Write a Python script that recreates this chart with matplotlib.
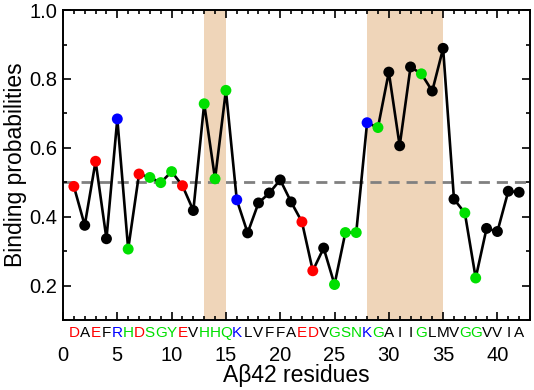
import matplotlib
matplotlib.use("Agg")
import matplotlib.pyplot as plt
from matplotlib.ticker import MultipleLocator

plt.rcParams['font.family'] = ['Liberation Sans', 'DejaVu Sans']

residues = list("DAEFRHDSGYEVHHQKLVFFAEDVGSNKGAIIGLMVGGVVIA")
positions = list(range(1, 43))
prob = [0.488, 0.375, 0.561, 0.336, 0.684, 0.306, 0.524, 0.514, 0.499, 0.531,
        0.490, 0.418, 0.728, 0.510, 0.767, 0.449, 0.353, 0.440, 0.469, 0.507,
        0.443, 0.385, 0.243, 0.309, 0.203, 0.354, 0.354, 0.673, 0.659, 0.820,
        0.606, 0.835, 0.815, 0.765, 0.889, 0.451, 0.411, 0.222, 0.366, 0.357,
        0.474, 0.471]
shaded = [(13, 15), (28, 35)]
threshold = 0.5

col_map = {}
for r in "DE":
    col_map[r] = '#FF0000'
for r in "RK":
    col_map[r] = '#0000FF'
for r in "HSGYQN":
    col_map[r] = '#00E000'
def color_of(r):
    return col_map.get(r, '#000000')

fig = plt.figure(figsize=(5.34, 3.90), dpi=100)
ax = fig.add_axes([0.118, 0.1795, 0.8745, 0.7945])

for a, b in shaded:
    ax.axvspan(a, b, color='#EFD5B9', lw=0, zorder=0)

ax.axhline(threshold, color='#808080', ls=(0, (4, 2.5)), lw=2.0, zorder=1)
ax.plot(positions, prob, color='black', lw=1.9, zorder=2)
ax.scatter(positions, prob, s=62, c=[color_of(r) for r in residues],
           zorder=3, linewidths=0)

ax.set_xlim(0, 43)
ax.set_ylim(0.1, 1.0)
ax.xaxis.set_major_locator(MultipleLocator(5))
ax.xaxis.set_minor_locator(MultipleLocator(1))
ax.yaxis.set_major_locator(MultipleLocator(0.2))
ax.yaxis.set_minor_locator(MultipleLocator(0.1))
ax.set_yticks([0.2, 0.4, 0.6, 0.8, 1.0])
ax.set_yticklabels(['0.2', '0.4', '0.6', '0.8', '1.0'])
ax.tick_params(which='both', direction='in', top=True, right=True, width=1.2)
ax.tick_params(which='major', length=6, labelsize=14.5)
ax.tick_params(which='minor', length=3)
ax.tick_params(axis='x', which='major', pad=19)
ax.tick_params(axis='y', which='major', pad=4)
for s in ax.spines.values():
    s.set_linewidth(1.4)

for x, r in zip(positions, residues):
    ax.annotate(r, xy=(x, 0), xycoords=('data', 'axes fraction'),
                xytext=(0, -4), textcoords='offset points',
                ha='center', va='top', fontsize=11, color=color_of(r))

ax.set_ylabel('Binding probabilities', fontsize=16.5, labelpad=2)
ax.set_xlabel('A\u03b242 residues', fontsize=16.5, labelpad=-1)

fig.savefig('out.png', dpi=100)
